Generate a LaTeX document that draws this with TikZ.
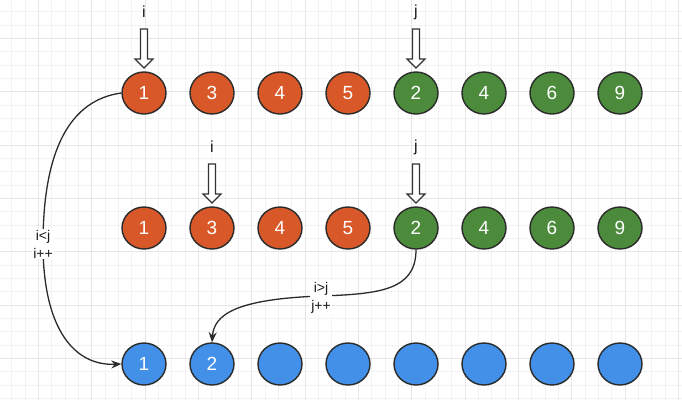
\documentclass[tikz,border=0pt]{standalone}
\usepackage{fontspec}
\setmainfont{Liberation Sans}
\usetikzlibrary{arrows.meta,shapes.geometric}
\definecolor{orng}{HTML}{D9582A}
\definecolor{grn}{HTML}{4B8B3B}
\definecolor{blu}{HTML}{4290E8}
\definecolor{gridminor}{HTML}{F2F2F2}
\definecolor{gridmajor}{HTML}{E6E6E6}
\definecolor{edge}{HTML}{2B2B2B}
\begin{document}
\begin{tikzpicture}[x=1pt,y=-1pt,
  ball/.style={ellipse,draw=edge,line width=1.4pt,minimum width=44pt,minimum height=42pt,inner sep=0pt,
    text=white,font=\fontsize{19}{19}\selectfont},
  ob/.style={ball,fill=orng},
  gb/.style={ball,fill=grn},
  bb/.style={ball,fill=blu},
  ptr/.style={draw=black!80,line width=1.1pt,fill=white},
  ptrlabel/.style={font=\fontsize{16}{16}\selectfont,text=black!90},
  conn/.style={draw=edge,line width=1.3pt,-{Stealth[length=10pt,width=8pt]}},
  clabel/.style={fill=white,inner sep=1pt,align=center,font=\fontsize{14}{18}\selectfont,text=black!90}
]
\useasboundingbox (0,0) rectangle (682,400);
\fill[white] (0,0) rectangle (682,400);
% grid
\foreach \k in {0,...,50} {
  \pgfmathsetmacro{\p}{11.67+13.333*\k}
  \draw[gridminor,line width=0.6pt] (\p,0) -- (\p,400);
  \draw[gridminor,line width=0.6pt] (0,\p) -- (682,\p);
}
\foreach \k in {0,...,13} {
  \pgfmathsetmacro{\p}{38.33+53.333*\k}
  \draw[gridmajor,line width=0.8pt] (\p,0) -- (\p,400);
  \draw[gridmajor,line width=0.8pt] (0,\p) -- (682,\p);
}
% row 1
\node[ob] (a1) at (144,93) {1};
\node[ob] (a2) at (212,93) {3};
\node[ob] (a3) at (280,93) {4};
\node[ob] (a4) at (348,93) {5};
\node[gb] (a5) at (416,93) {2};
\node[gb] (a6) at (484,93) {4};
\node[gb] (a7) at (552,93) {6};
\node[gb] (a8) at (620,93) {9};
% row 2
\node[ob] (b1) at (144,228) {1};
\node[ob] (b2) at (212,228) {3};
\node[ob] (b3) at (280,228) {4};
\node[ob] (b4) at (348,228) {5};
\node[gb] (b5) at (416,228) {2};
\node[gb] (b6) at (484,228) {4};
\node[gb] (b7) at (552,228) {6};
\node[gb] (b8) at (620,228) {9};
% row 3
\node[bb] (c1) at (144,364) {1};
\node[bb] (c2) at (212,364) {2};
\node[bb] (c3) at (280,364) {};
\node[bb] (c4) at (348,364) {};
\node[bb] (c5) at (416,364) {};
\node[bb] (c6) at (484,364) {};
\node[bb] (c7) at (552,364) {};
\node[bb] (c8) at (620,364) {};
% pointers
\foreach \nm/\x/\y/\t in {pi1/144/12/i, pj1/416/12/j, pi2/212/147/i, pj2/416/147/j} {
  \node[ptrlabel] (\nm) at (\x,\y) {\t};
  \draw[ptr] (\x-3.5,\y+17) -- (\x+3.5,\y+17) -- (\x+3.5,\y+47) -- (\x+9,\y+47)
     -- (\x,\y+56) -- (\x-9,\y+47) -- (\x-3.5,\y+47) -- cycle;
}
% connectors
\draw[conn] (a1.west) .. controls (70,100) and (43,150) .. (43,244)
  .. controls (43,330) and (75,366) .. (c1.west);
\node[clabel] (l1) at (43,244) {i<j\\i++};
\draw[conn] (b5.south) .. controls (416,290) and (380,294) .. (321,296)
  .. controls (235,299) and (214,315) .. (c2.north);
\node[clabel] (l2) at (321,298) {i>j\\j++};
\end{tikzpicture}
\end{document}
